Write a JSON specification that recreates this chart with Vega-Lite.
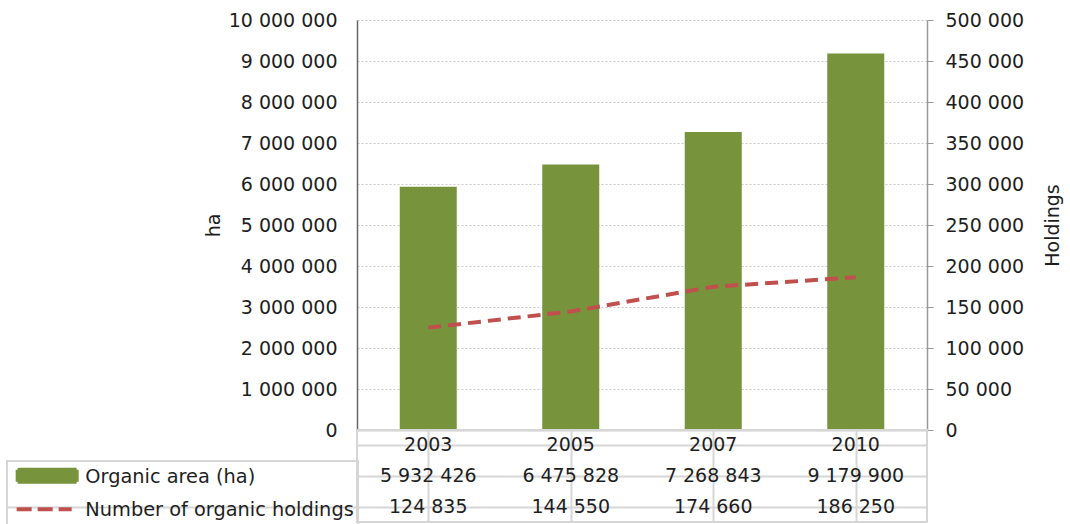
{
  "$schema": "https://vega.github.io/schema/vega-lite/v6.json",
  "autosize": {"type": "none"},
  "padding": {"left": 357, "top": 20, "right": 713, "bottom": 504},
  "data": {"values": [
    {"year": "2003", "area": 5932426, "holdings": 124835},
    {"year": "2005", "area": 6475828, "holdings": 144550},
    {"year": "2007", "area": 7268843, "holdings": 174660},
    {"year": "2010", "area": 9179900, "holdings": 186250}
  ]},
  "vconcat": [
    {
      "width": 570,
      "height": 410,
      "view": {"stroke": null},
      "layer": [
        {
          "mark": {"type": "bar"},
          "encoding": {
            "x": {"field": "year", "type": "nominal", "scale": {"paddingInner": 0.6, "paddingOuter": 0.3},
                  "axis": {"title": null, "labels": false, "ticks": false, "domain": true, "domainColor": "#999999", "domainWidth": 1.5, "grid": false}},
            "y": {"field": "area", "type": "quantitative", "scale": {"domain": [0, 10000000], "nice": false},
                  "axis": {"title": "ha", "titleAngle": 270, "titlePadding": 5, "values": [0,1000000,2000000,3000000,4000000,5000000,6000000,7000000,8000000,9000000,10000000],
                           "format": ",.0f", "ticks": false, "tickSize": 0, "labelPadding": 20, "domainColor": "#666666", "domainWidth": 1.5,
                           "grid": true, "gridDash": [2, 2], "gridColor": "#c8c8c8", "gridWidth": 1}},
            "color": {"datum": "Organic area (ha)", "type": "nominal",
                      "scale": {"domain": ["Organic area (ha)", "Number of organic holdings"], "range": ["#77933c", "#c0504d"]},
                      "legend": {
                        "orient": "none", "legendX": -350, "legendY": 441, "direction": "vertical", "title": null,
                        "padding": 3.5, "strokeColor": "#d6d6d6", "labelFontSize": 19.35, "labelColor": "#1e1e1e", "labelLimit": 500,
                        "symbolSize": 100, "symbolOffset": 1.5, "labelOffset": 54, "rowPadding": 7, "symbolStrokeWidth": 4,
                        "encode": {
                          "legend": {"update": {"strokeWidth": {"value": 2}}},
                          "labels": {"update": {"dy": {"value": 3}}},
                          "symbols": {"update": {
                            "shape": {"signal": "datum.value === 'Organic area (ha)' ? 'M-0.8,-0.9H11.0V1.5H-0.8Z' : 'M-1,0.4H10.0'"},
                            "fill": {"signal": "datum.value === 'Organic area (ha)' ? '#77933c' : 'transparent'"},
                            "stroke": {"signal": "datum.value === 'Organic area (ha)' ? 'transparent' : '#c0504d'"},
                            "strokeDash": {"signal": "datum.value === 'Organic area (ha)' ? [1, 0] : [15, 6]"},
                            "strokeWidth": {"value": 4},
                            "opacity": {"value": 1}
                          }}
                        }
                      }}
          }
        },
        {
          "mark": {"type": "line", "strokeDash": [13, 7], "strokeWidth": 4},
          "encoding": {
            "x": {"field": "year", "type": "nominal"},
            "y": {"field": "holdings", "type": "quantitative", "scale": {"domain": [0, 500000], "nice": false},
                  "axis": {"title": "Holdings", "orient": "right", "titleAngle": 270, "titlePadding": 39,
                           "values": [0,50000,100000,150000,200000,250000,300000,350000,400000,450000,500000],
                           "format": ",.0f", "ticks": true, "tickSize": 6, "tickColor": "#999999", "labelPadding": 12,
                           "domainColor": "#999999", "domainWidth": 1.5, "grid": false}},
            "color": {"datum": "Number of organic holdings", "type": "nominal"}
          }
        }
      ],
      "resolve": {"scale": {"y": "independent"}}
    },
    {
      "width": 570,
      "height": 92,
      "view": {"stroke": "#d6d6d6", "strokeWidth": 2},
      "encoding": {
        "x": {"field": "year", "type": "nominal", "scale": {"paddingInner": 0, "paddingOuter": 0},
              "axis": {"title": null, "labels": false, "ticks": false, "domain": false, "grid": true, "bandPosition": 0,
                       "gridColor": "#d6d6d6", "gridWidth": 2, "gridDash": []}}
      },
      "layer": [
        {
          "mark": {"type": "text", "fontSize": 19, "color": "#1e1e1e"},
          "encoding": {
            "y": {"datum": "Year", "type": "nominal",
                  "scale": {"domain": ["Year", "Organic area (ha)", "Number of organic holdings"], "paddingInner": 0, "paddingOuter": 0},
                  "axis": {"title": null, "labels": false, "domain": false, "grid": true, "bandPosition": 0,
                           "gridColor": "#d6d6d6", "gridWidth": 2, "gridDash": [],
                           "ticks": true, "tickSize": 350, "tickWidth": 2,
                           "tickColor": {"condition": {"test": "datum.value === 'Number of organic holdings'", "value": "#d6d6d6"}, "value": "transparent"}}},
            "text": {"field": "year"}
          }
        },
        {
          "mark": {"type": "text", "fontSize": 19, "color": "#1e1e1e"},
          "encoding": {
            "y": {"datum": "Organic area (ha)", "type": "nominal"},
            "text": {"field": "area", "type": "quantitative", "format": ",.0f"}
          }
        },
        {
          "mark": {"type": "text", "fontSize": 19, "color": "#1e1e1e"},
          "encoding": {
            "y": {"datum": "Number of organic holdings", "type": "nominal"},
            "text": {"field": "holdings", "type": "quantitative", "format": ",.0f"}
          }
        }
      ]
    }
  ],
  "spacing": 0,
  "bounds": "flush",
  "config": {
    "font": "DejaVu Sans",
    "locale": {"number": {"decimal": ".", "thousands": " ", "grouping": [3], "currency": ["", ""]}},
    "axis": {"labelFont": "DejaVu Sans", "labelFontSize": 19, "labelColor": "#1e1e1e", "titleFont": "DejaVu Sans", "titleFontSize": 19, "titleFontWeight": "normal", "titleColor": "#1e1e1e"},
    "legend": {"labelFont": "DejaVu Sans"},
    "text": {"font": "DejaVu Sans"}
  }
}
